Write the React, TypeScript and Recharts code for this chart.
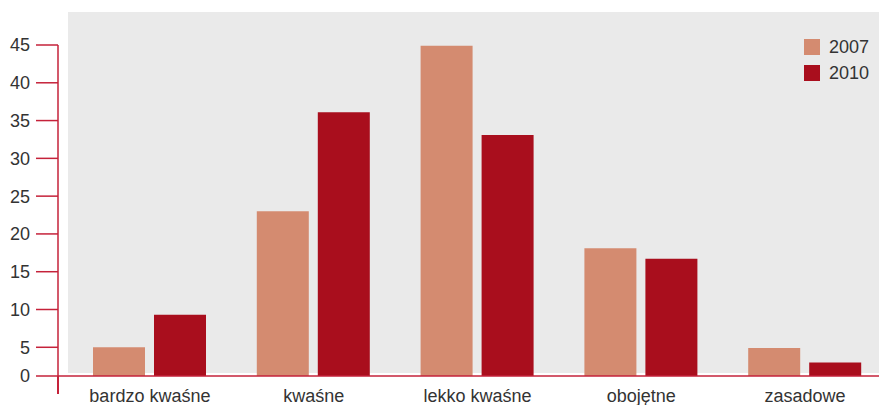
import React from 'react';
import { BarChart, Bar, XAxis, YAxis } from 'recharts';

const categories = ['bardzo kwaśne', 'kwaśne', 'lekko kwaśne', 'obojętne', 'zasadowe'];
const values2007 = [5.0, 23.0, 44.9, 18.1, 4.9];
const values2010 = [9.3, 36.1, 33.1, 16.7, 3.0];
const yTicks = [5, 10, 15, 20, 25, 30, 35, 40, 45];

const series = [
  { key: 'y2007', name: '2007', color: '#D48B70' },
  { key: 'y2010', name: '2010', color: '#A90E1D' },
];

const data = categories.map((category, i) => ({
  category,
  y2007: values2007[i],
  y2010: values2010[i],
}));

// value axis is broken below 5: the floor sits just above zero and carries the "0" label
const Y_FLOOR = 1.2;
const Y_MAX = 45;

const FONT = '"Liberation Sans", Arial, Helvetica, sans-serif';
const TEXT = '#333333';
const AXIS_RED = '#C5223A';
const PANEL = '#EAEAEA';

const W = 879;
const H = 397;

function LegendBox() {
  return (
    <div
      style={{
        position: 'absolute',
        left: 796,
        top: 31,
        fontFamily: FONT,
        fontSize: 18,
        color: TEXT,
      }}
    >
      {series.map((s) => (
        <div
          key={s.key}
          style={{ display: 'flex', alignItems: 'center', height: 16, marginBottom: 10 }}
        >
          <span style={{ width: 16, height: 16, background: s.color, marginRight: 9 }} />
          <span style={{ lineHeight: '16px' }}>{s.name}</span>
        </div>
      ))}
    </div>
  );
}

export default function App() {
  return (
    <div style={{ position: 'relative', width: W, height: H }}>
      {/* grey panel behind the plot */}
      <div
        style={{
          position: 'absolute',
          left: 60,
          top: 4,
          width: 819,
          height: 361,
          background: PANEL,
        }}
      />
      {/* y axis runs on a little past the baseline */}
      <div
        style={{
          position: 'absolute',
          left: 49.25,
          top: 368,
          width: 1.5,
          height: 18,
          background: AXIS_RED,
        }}
      />
      <div style={{ position: 'absolute', left: 0, top: 0 }}>
        <BarChart
          width={W}
          height={H}
          data={data}
          margin={{ top: 37, right: 0, bottom: 0, left: 0 }}
          barSize={52}
          barGap={9}
        >
          <XAxis
            dataKey="category"
            height={29}
            padding={{ left: 10, right: 0 }}
            interval={0}
            tickLine={false}
            tickSize={0}
            tickMargin={13}
            axisLine={{ stroke: AXIS_RED, strokeWidth: 1.5 }}
            tick={{ fill: TEXT, fontSize: 18, fontFamily: FONT }}
          />
          <YAxis
            type="number"
            domain={[Y_FLOOR, Y_MAX]}
            ticks={[Y_FLOOR, ...yTicks]}
            interval={0}
            width={50}
            tickSize={22}
            tickMargin={6}
            tickLine={{ stroke: AXIS_RED, strokeWidth: 1.5 }}
            axisLine={{ stroke: AXIS_RED, strokeWidth: 1.5 }}
            tick={{ fill: TEXT, fontSize: 18, fontFamily: FONT }}
            tickFormatter={(v: number) => (v === Y_FLOOR ? '0' : String(v))}
          />
          {series.map((s) => (
            <Bar
              key={s.key}
              dataKey={s.key}
              name={s.name}
              fill={s.color}
              isAnimationActive={false}
            />
          ))}
        </BarChart>
      </div>
      <LegendBox />
    </div>
  );
}
